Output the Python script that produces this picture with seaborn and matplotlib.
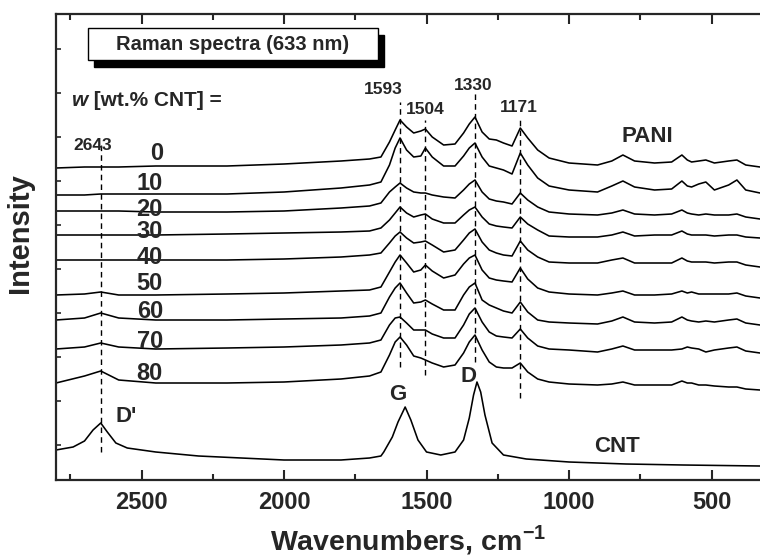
import matplotlib
matplotlib.use("Agg")
import matplotlib.pyplot as plt
import seaborn as sns
import pandas as pd
from matplotlib.patches import Rectangle

# ---------------- data (stacked intensities, a.u.) ----------------
wavenumbers = [2800, 2700, 2643, 2580, 2450, 2200, 2000, 1800, 1700, 1660,
               1630, 1610, 1593, 1570, 1545, 1520, 1504, 1480, 1440, 1400,
               1370, 1350, 1330, 1305, 1280, 1255, 1230, 1200, 1171, 1145,
               1110, 1070, 1000, 900, 850, 811, 770, 700, 640, 604,
               585, 570, 545, 520, 490, 440, 411, 380, 330]

spec_w0 = [312, 313, 313, 313, 314, 314, 316, 319, 321, 323,
           338, 350, 360, 353, 347, 349, 351, 343, 335, 336,
           347, 356, 363, 348, 341, 340, 337, 334, 352, 342,
           330, 322, 317, 315, 319, 325, 319, 317, 318, 325,
           320, 318, 319, 320, 317, 319, 320, 315, 313]
spec_w10 = [285, 285, 286, 286, 286, 286, 288, 292, 295, 298,
            315, 332, 342, 330, 323, 324, 332, 323, 314, 314,
            324, 332, 337, 323, 314, 312, 310, 306, 327, 315,
            302, 294, 290, 288, 294, 299, 293, 290, 291, 299,
            294, 293, 296, 298, 290, 295, 300, 290, 287]
spec_w20 = [269, 269, 269, 269, 268, 268, 269, 272, 274, 277,
            288, 293, 297, 292, 288, 287, 287, 285, 283, 282,
            290, 296, 300, 288, 281, 279, 278, 276, 287, 280,
            273, 268, 266, 265, 267, 270, 266, 265, 266, 270,
            267, 266, 265, 266, 265, 265, 266, 263, 261]
spec_w30 = [245, 245, 245, 245, 245, 246, 247, 248, 249, 252,
            260, 267, 273, 267, 263, 265, 266, 261, 257, 257,
            265, 270, 273, 263, 256, 254, 253, 252, 263, 256,
            250, 244, 243, 243, 245, 248, 244, 245, 245, 249,
            246, 245, 245, 245, 244, 245, 245, 243, 242]
spec_w40 = [220, 220, 220, 220, 220, 220, 221, 223, 225, 227,
            237, 244, 248, 242, 237, 238, 239, 235, 228, 230,
            240, 247, 251, 238, 230, 227, 225, 224, 239, 230,
            223, 218, 217, 217, 220, 222, 217, 217, 217, 222,
            219, 218, 218, 218, 217, 218, 218, 215, 213]
spec_w50 = [185, 186, 188, 185, 185, 186, 187, 189, 190, 193,
            208, 218, 225, 217, 208, 210, 215, 209, 202, 205,
            216, 222, 225, 210, 202, 200, 199, 198, 212, 201,
            192, 188, 186, 185, 187, 189, 185, 185, 186, 189,
            187, 188, 186, 186, 186, 186, 187, 184, 182]
spec_w60 = [160, 162, 167, 162, 160, 160, 161, 162, 164, 167,
            183, 192, 197, 187, 177, 178, 180, 176, 170, 170,
            185, 193, 197, 180, 175, 172, 169, 167, 178, 168,
            160, 158, 157, 156, 159, 163, 158, 157, 158, 163,
            160, 159, 158, 159, 158, 160, 161, 157, 155]
spec_w70 = [131, 133, 137, 133, 131, 132, 133, 135, 137, 140,
            155, 162, 163, 157, 150, 150, 150, 146, 142, 142,
            155, 166, 172, 158, 148, 144, 143, 142, 151, 142,
            134, 131, 130, 128, 131, 134, 130, 130, 130, 131,
            133, 132, 131, 128, 130, 132, 133, 129, 127]
spec_w80 = [97, 104, 109, 100, 97, 97, 98, 101, 104, 108,
            125, 138, 143, 135, 124, 122, 120, 117, 113, 115,
            127, 138, 145, 130, 118, 113, 112, 112, 117, 108,
            101, 98, 96, 95, 96, 98, 95, 95, 95, 99,
            97, 97, 95, 95, 94, 93, 93, 91, 90]

cnt_wavenumbers = [2800, 2740, 2700, 2670, 2643, 2620, 2590, 2550, 2450, 2300,
                   2000, 1800, 1700, 1660, 1650, 1620, 1600, 1575, 1555, 1530,
                   1500, 1450, 1400, 1370, 1350, 1335, 1323, 1310, 1295, 1270,
                   1230, 1150, 1000, 800, 600, 330]
cnt_intensity = [30, 33, 39, 50, 57, 48, 37, 32, 28, 24,
                 20, 20, 22, 24, 28, 43, 58, 73, 60, 40,
                 28, 25, 28, 40, 62, 85, 98, 88, 65, 37,
                 25, 21, 18, 16, 15, 14]

cnt_contents = ["0", "10", "20", "30", "40", "50", "60", "70", "80"]
label_heights = [327, 297, 271, 248, 223, 197, 168, 139, 107]

peak_positions = [2643, 1593, 1504, 1330, 1171]
peak_labels = ["2643", "1593", "1504", "1330", "1171"]

# ---------------- style ----------------
sns.set_theme(style="ticks")
plt.rcParams["font.family"] = ["Liberation Sans", "DejaVu Sans"]
plt.rcParams["font.weight"] = "bold"
plt.rcParams["mathtext.fontset"] = "custom"
plt.rcParams["mathtext.rm"] = "Liberation Sans:bold"
plt.rcParams["mathtext.bf"] = "Liberation Sans:bold"
plt.rcParams["axes.labelweight"] = "bold"

spectra = [spec_w0, spec_w10, spec_w20, spec_w30, spec_w40,
           spec_w50, spec_w60, spec_w70, spec_w80]
rows = []
for name, vals in zip(cnt_contents, spectra):
    for w, v in zip(wavenumbers, vals):
        rows.append({"wavenumber": w, "intensity": v, "sample": name})
df = pd.DataFrame(rows)
cnt_df = pd.DataFrame({"wavenumber": cnt_wavenumbers, "intensity": cnt_intensity})

fig = plt.figure(figsize=(7.6, 5.59), dpi=100)
ax = fig.add_axes([56 / 760, 1 - 480 / 559, 704 / 760, 466 / 559])

sns.lineplot(data=df, x="wavenumber", y="intensity", units="sample",
             estimator=None, sort=False, color="black", lw=1.15, ax=ax)
sns.lineplot(data=cnt_df, x="wavenumber", y="intensity", sort=False,
             color="black", lw=1.15, ax=ax)

ax.set_xlim(2800, 330)
ax.set_ylim(0, 466)

# dashed peak markers
dash_ext = {2643: (28, 337), 1593: (113, 378), 1504: (105, 360),
            1330: (118, 387), 1171: (82, 360)}
for p in peak_positions:
    y0, y1 = dash_ext[p]
    ax.plot([p, p], [y0, y1], color="black", lw=1.0, ls=(0, (4, 3)))

label_xy = {"2643": (2670, 334), "1593": (1653, 390), "1504": (1505, 371),
            "1330": (1337, 395), "1171": (1175, 373)}
for lab in peak_labels:
    x, y = label_xy[lab]
    ax.text(x, y, lab, fontsize=12.5, ha="center", va="center")

for lab, h in zip(cnt_contents, label_heights):
    ax.text(2425, h, lab, fontsize=17, ha="right", va="center")

t1 = ax.text(2744, 379, "w", fontsize=15, style="italic", ha="left", va="center")
ax.annotate(" [wt.% CNT] =", xy=(1, 0), xycoords=t1, fontsize=15,
            ha="left", va="bottom")

ax.text(726, 344, "PANI", fontsize=16, ha="center", va="center")
ax.text(832, 33, "CNT", fontsize=16, ha="center", va="center")
ax.text(2554, 64, "D'", fontsize=16, ha="center", va="center")
ax.text(1600, 86, "G", fontsize=16, ha="center", va="center")
ax.text(1351, 103, "D", fontsize=16, ha="center", va="center")

# title box with shadow
ax.add_patch(Rectangle((1649, 413), 1018, 32, facecolor="black",
                       edgecolor="black", zorder=3))
ax.add_patch(Rectangle((1670, 420), 1018, 32, facecolor="white",
                       edgecolor="black", lw=1.0, zorder=4))
ax.text(2179, 436, "Raman spectra (633 nm)", fontsize=14.5, ha="center",
        va="center", zorder=5)

# axes styling
for s in ["left", "bottom", "top"]:
    ax.spines[s].set_linewidth(1.6)
ax.spines["right"].set_visible(False)
ax.set_xticks([2500, 2000, 1500, 1000, 500])
ax.set_xticks([2750, 2250, 1750, 1250, 750], minor=True)
ax.set_yticks([35 + 44 * k for k in range(10)])
ax.set_yticklabels([])
ax.tick_params(axis="x", which="major", direction="in", top=True, length=7.5,
               width=1.5, labelsize=17, pad=8)
ax.tick_params(axis="x", which="minor", direction="in", top=True, length=4.5,
               width=1.5)
ax.tick_params(axis="y", which="major", direction="in", left=True, length=3.5,
               width=1.2)
for lab in ax.get_xticklabels():
    lab.set_fontweight("bold")

ax.set_xlabel(r"Wavenumbers, cm$^{\mathbf{-1}}$", fontsize=20.5, fontweight="bold")
ax.set_ylabel("Intensity", fontsize=21, fontweight="bold")
ax.xaxis.set_label_coords(0.5, -0.092)
ax.yaxis.set_label_coords(-0.031, 0.53)

fig.savefig("out.png", dpi=100)
